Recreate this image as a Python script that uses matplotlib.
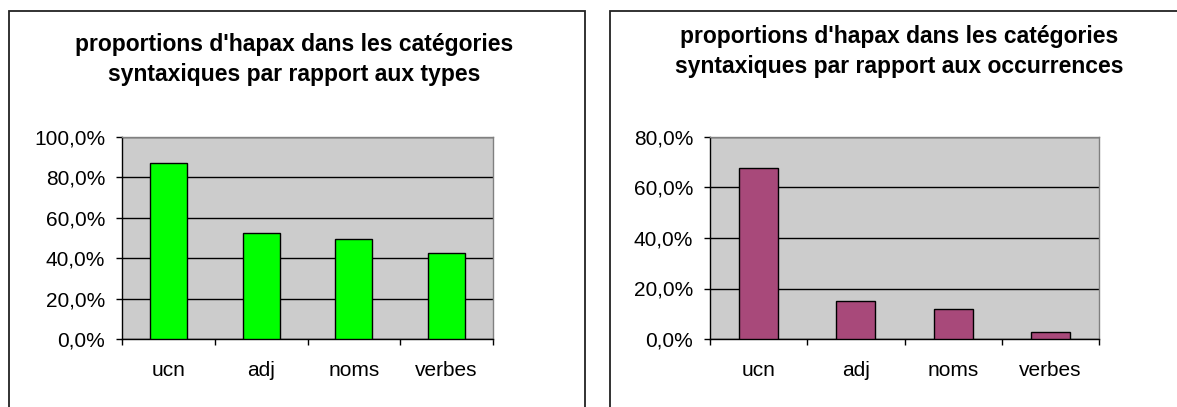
import matplotlib
matplotlib.use("Agg")
import matplotlib.pyplot as plt
from matplotlib.patches import Rectangle
from matplotlib.ticker import FuncFormatter, FixedLocator

categories = ["ucn", "adj", "noms", "verbes"]
types_pct = [87.0, 52.3, 49.5, 42.4]
occ_pct = [67.9, 15.0, 11.9, 2.6]
title_left = ["proportions d'hapax dans les catégories", "syntaxiques par rapport aux types"]
title_right = ["proportions d'hapax dans les catégories", "syntaxiques par rapport aux occurrences"]

W, H = 1177, 407
fig = plt.figure(figsize=(W / 100, H / 100), dpi=100)
plt.rcParams['font.family'] = ['Liberation Sans', 'DejaVu Sans']

def px_axes(x0, y0, x1, y1):
    return fig.add_axes([x0 / W, 1 - y1 / H, (x1 - x0) / W, (y1 - y0) / H])

def fmt(v, pos):
    return ("%.1f%%" % v).replace(".", ",")

def draw(ax, vals, ymax, color):
    n = len(categories)
    x = list(range(n))
    ax.set_facecolor("#CCCCCC")
    ax.bar(x, vals, width=0.4, color=color, edgecolor="black", linewidth=1.0, zorder=3)
    ax.set_xlim(-0.5, n - 0.5)
    ax.set_ylim(0, ymax)
    ax.yaxis.set_major_locator(FixedLocator(list(range(0, int(ymax) + 1, 20))))
    ax.yaxis.set_major_formatter(FuncFormatter(fmt))
    ax.grid(axis="y", color="black", linewidth=1.0, zorder=1)
    ax.set_xticks(x)
    ax.set_xticklabels(categories)
    ax.set_xticks([i - 0.5 for i in range(n + 1)], minor=True)
    ax.tick_params(axis="x", which="major", length=0, pad=16, labelsize=15)
    ax.tick_params(axis="x", which="minor", length=4, width=1, direction="out", color="black")
    ax.tick_params(axis="y", length=4, width=1, direction="out", pad=8, labelsize=15)
    for s in ["top", "right"]:
        ax.spines[s].set_color("#808080")
        ax.spines[s].set_linewidth(1.0)
    for s in ["left", "bottom"]:
        ax.spines[s].set_color("black")
        ax.spines[s].set_linewidth(1.0)

ax1 = px_axes(122, 137, 493, 339)
draw(ax1, types_pct, 100, "#00FF00")
ax2 = px_axes(710, 137, 1099, 339)
draw(ax2, occ_pct, 80, "#A8497A")

# panel borders
fig.patches.append(Rectangle((8.5 / W, -0.05), (585 - 8.5) / W, 1.05 - 10.7 / H,
                             transform=fig.transFigure, fill=False, edgecolor="#222222",
                             linewidth=1.3))
fig.patches.append(Rectangle((609.5 / W, -0.05), (1185 - 609.5) / W, 1.05 - 10.7 / H,
                             transform=fig.transFigure, fill=False, edgecolor="#222222",
                             linewidth=1.3))

for i, t in enumerate(title_left):
    fig.text(294 / W, 1 - (45 + 30 * i) / H, t, ha="center", va="center",
             fontsize=16.5, fontweight="bold")
for i, t in enumerate(title_right):
    fig.text(899 / W, 1 - (37 + 30 * i) / H, t, ha="center", va="center",
             fontsize=16.5, fontweight="bold")

fig.savefig("out.png", dpi=100)
